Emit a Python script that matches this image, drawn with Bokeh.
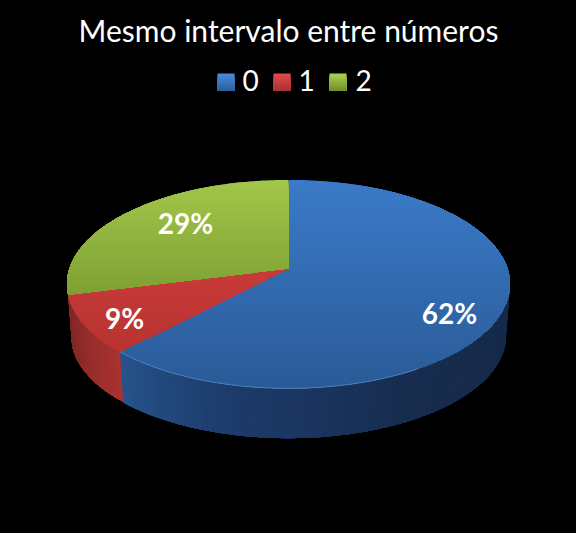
import numpy as np
from bokeh.plotting import figure
from bokeh.core.properties import value
from bokeh.embed import file_html
from bokeh.resources import INLINE

title_text = "Mesmo intervalo entre números"
categories = ["0", "1", "2"]
shares = [62, 9, 29]
share_labels = ["62%", "9%", "29%"]

# styles
top_colors = {"0": ("#3b7ac8", "#2a5a96"), "1": ("#dc4240", "#ae302e"), "2": ("#a2c64a", "#5f8020")}
wall_stops = {
    "0": [(0.0, "#26548c"), (0.2, "#1d3c6c"), (0.5, "#172c4e"), (0.8, "#16294a"), (1.0, "#1d3c62")],
    "1": [(0.0, "#a83230"), (1.0, "#7a2624")],
}
swatch_colors = {"0": ("#4a8ad8", "#2a5f9e"), "1": ("#e04a48", "#a83230"), "2": ("#aad050", "#6f9028")}
swatch_x = [217, 273, 329]
key_x = [242, 298, 355]
label_pos = [(449, 312), (124, 317), (185, 222)]

# geometry of the tilted disc, in picture pixels
CX, AY, A, B, K = 288.0, 268.0, 219.0, 101.9, 0.15
AY2, A2, B2 = 320.0, 215.0, 100.0


def hex2rgb(h):
    return np.array([int(h[i:i + 2], 16) for i in (1, 3, 5)], float)


def mix(c1, c2, t):
    t = min(max(t, 0.0), 1.0)
    r = hex2rgb(c1) * (1 - t) + hex2rgb(c2) * t
    return "#%02x%02x%02x" % tuple(int(round(v)) for v in r)


def ramp(stops, t):
    for (t0, c0), (t1, c1) in zip(stops, stops[1:]):
        if t <= t1:
            return mix(c0, c1, (t - t0) / (t1 - t0) if t1 > t0 else 0)
    return stops[-1][1]


def top_pt(th):
    u, v = np.sin(th), -np.cos(th)
    d = 1 - K * v
    return CX + A * u / d, AY + B * v / d


def bot_pt(th):
    u, v = np.sin(th), -np.cos(th)
    d = 1 - K * v
    return CX + A2 * u / d, AY2 + B2 * v / d


def clip_below(xs, ys, y0):
    """Keep the part of a polygon with y >= y0."""
    ox, oy = [], []
    n = len(xs)
    for i in range(n):
        x1, y1, x2, y2 = xs[i], ys[i], xs[(i + 1) % n], ys[(i + 1) % n]
        if y1 >= y0:
            ox.append(x1); oy.append(y1)
        if (y1 >= y0) != (y2 >= y0):
            t = (y0 - y1) / (y2 - y1)
            ox.append(x1 + t * (x2 - x1)); oy.append(y0)
    return ox, oy


p = figure(width=560, height=517, x_range=(0, 560), y_range=(517, 0),
           output_backend="svg", toolbar_location=None,
           background_fill_color="black", border_fill_color="black",
           min_border=0, outline_line_color=None)
p.axis.visible = False
p.grid.visible = False

total = sum(shares)
edges = 2 * np.pi * np.cumsum([0] + shares) / total

# side wall: the visible front arc, painted strip by strip; the green slice's wall stays hidden
for i, cat in enumerate(categories):
    if cat not in wall_stops:
        continue
    a0, a1 = max(edges[i], 1.36), edges[i + 1]
    ths = np.linspace(a0, a1, max(4, int((a1 - a0) * 45)))
    wx, wy, col = [], [], []
    for t0 in ths[:-1]:
        rest = ths[ths >= t0]
        pts_top = [top_pt(t) for t in rest]
        pts_bot = [bot_pt(t) for t in rest[::-1]]
        wx.append([q[0] for q in pts_top + pts_bot])
        wy.append([q[1] for q in pts_top + pts_bot])
        f = (t0 - a0) / (a1 - a0)
        # blue runs clockwise from the right, so its ramp is read backwards
        col.append(ramp(wall_stops[cat], 1 - f if cat == "0" else f))
    p.patches(wx, wy, fill_color=col, line_color=None)

# top face with a vertical gradient
YTOP, YBOT = 180.0, 389.0
bands = np.arange(YTOP - 1, YBOT + 1, 3.0)
for i, cat in enumerate(categories):
    ths = np.linspace(edges[i], edges[i + 1], 160)
    pts = [top_pt(t) for t in ths]
    xs = [q[0] for q in pts] + [CX]
    ys = [q[1] for q in pts] + [AY]
    bx, by, col = [], [], []
    for y0 in bands:
        ox, oy = clip_below(xs, ys, y0)
        if len(ox) < 3:
            continue
        bx.append(ox); by.append(oy)
        col.append(mix(top_colors[cat][0], top_colors[cat][1], (y0 - YTOP) / (YBOT - YTOP)))
    p.patches(bx, by, fill_color=col, line_color=None)

# thin light rim along the front edge of the blue slice
ths = np.linspace(2.6, edges[1], 70)
rim = [top_pt(t) for t in ths]
p.line([q[0] for q in rim], [q[1] for q in rim], line_color="#5f90cc", line_width=1, line_alpha=0.7)

# title
p.text([288], [29], text=[title_text], text_font=value("Lato"), text_font_size="30px",
       text_color="white", text_align="center", text_baseline="middle")

# legend
for cat, sx, kx in zip(categories, swatch_x, key_x):
    steps = np.arange(0, 17, 2.0)
    p.quad(left=[sx] * len(steps), right=[sx + 17] * len(steps), top=list(73 + steps),
           bottom=[90] * len(steps),
           fill_color=[mix(swatch_colors[cat][0], swatch_colors[cat][1], s / 16) for s in steps],
           line_color=None)
    p.text([kx], [80], text=[cat], text_font=value("Lato"), text_font_size="28px",
           text_color="white", text_align="left", text_baseline="middle")

# value labels
for (lx, ly), lab in zip(label_pos, share_labels):
    p.text([lx], [ly], text=[lab], text_font=value("Lato"), text_font_size="28px",
           text_font_style="bold", text_color="white", text_align="center", text_baseline="middle")

html = file_html(p, INLINE)
html = html.replace("<head>", "<head><style>html,body{background:#000;}</style>", 1)
open("out.html", "w").write(html)
